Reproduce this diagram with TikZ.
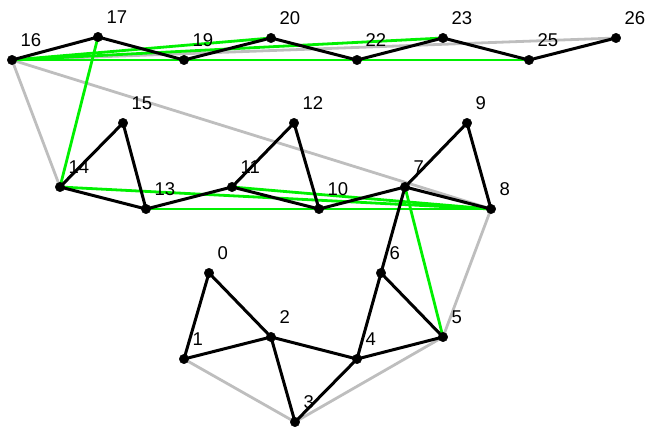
\documentclass[tikz,border=0pt]{standalone}
\usepackage{fontspec}
\setmainfont{Liberation Sans}
\usepackage{tikz}
\usetikzlibrary{arrows, positioning}
\usepackage{xcolor}
\definecolor{edgegreen}{RGB}{0,240,0}
\definecolor{edgegray}{RGB}{190,190,190}

\begin{document}
\begin{tikzpicture}[x=1pt, y=-1pt] \tikzstyle{dot} = [draw, fill=black,
    circle, inner sep=0pt, minimum size=9.5pt] \tikzstyle{lbl} = [inner sep=0pt,
    anchor=base west, font=\fontsize{18.5}{20}\selectfont]
    \tikzstyle{tree} = [line width=3pt, black]
    \tikzstyle{back} = [line width=2.8pt, edgegray]
    \tikzstyle{extra} = [line width=2.8pt, edgegreen]
    \useasboundingbox (0,0) rectangle (647,430);
    \foreach \n/\x/\y in {0/209/273, 1/184/359, 2/271/337, 3/295/422,
        4/357/359, 5/443/337, 6/381/273, 7/405/187, 8/491/209, 9/467/123,
        10/319/209, 11/232/187, 12/294/123, 13/146/209, 14/60/187,
        15/123/123, 16/12/60, 17/98/37, 19/184/60, 20/271/38, 22/357/60,
        23/443/38, 25/529/60, 26/616/38}
        \coordinate (p\n) at (\x,\y);
    \draw[back] (p1) -- (p3) -- (p5) -- (p8) -- (p16) -- (p14);
    \draw[back] (p16) -- (p26);
    \draw[extra] (p5) -- (p7);
    \draw[extra] (p17) -- (p14) -- (p8);
    \draw[extra] (p11) -- (p8);
    \draw[extra] (p13) -- (p8);
    \draw[extra] (p16) -- (p20);
    \draw[extra] (p16) -- (p23);
    \draw[extra] (p16) -- (p25);
    \draw[tree] (p0) -- (p1) -- (p2) -- (p0);
    \draw[tree] (p2) -- (p3) -- (p4) -- (p2);
    \draw[tree] (p4) -- (p6) -- (p5) -- (p4);
    \draw[tree] (p6) -- (p7) -- (p9) -- (p8) -- (p7) -- (p10);
    \draw[tree] (p10) -- (p11) -- (p12) -- (p10);
    \draw[tree] (p11) -- (p13) -- (p14) -- (p15) -- (p13);
    \draw[tree] (p16) -- (p17) -- (p19) -- (p20) -- (p22) -- (p23) -- (p25)
        -- (p26);
    \foreach \n in {0,1,2,3,4,5,6,7,8,9,10,11,12,13,14,15,16,17,19,20,22,23,25,26}
        {\node [dot] (n\n) at (p\n) {};
        \node [lbl] (l\n) at ([xshift=8.5pt, yshift=13.5pt]n\n.center) {\n};}
\end{tikzpicture}
\end{document}
